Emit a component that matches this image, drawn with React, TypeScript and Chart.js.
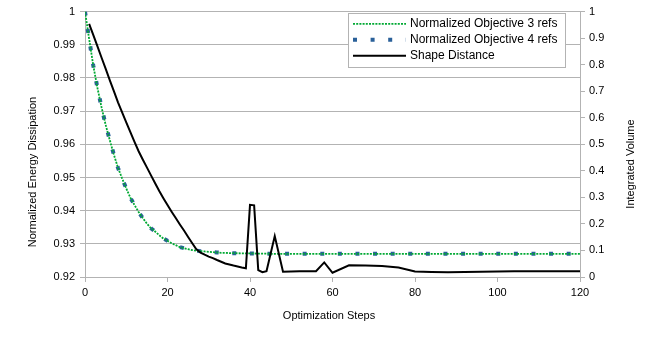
import { useEffect, useRef } from "react";
import { Chart, registerables } from "chart.js";

Chart.register(...registerables);

// ---- data ----
const objectiveSteps = [
  0, 1, 2, 3, 4, 5, 6, 7, 8, 9, 10, 11, 12, 13, 14, 15, 16, 17, 18, 19, 20,
  21, 22, 23, 24, 25, 26, 27, 28, 29, 30, 31, 32, 33, 34, 35, 40, 45, 50, 55,
  60, 65, 70, 75, 80, 85, 90, 95, 100, 105, 110, 115, 120,
];
const objective3Refs = [
  1.0, 0.9918, 0.9838, 0.9771, 0.9712, 0.9659, 0.9613, 0.9569, 0.9529, 0.9497,
  0.9467, 0.9439, 0.9417, 0.9396, 0.9378, 0.9361, 0.9347, 0.9337, 0.9326,
  0.9316, 0.9309, 0.9302, 0.9296, 0.929, 0.9287, 0.9284, 0.9281, 0.9279,
  0.9278, 0.9277, 0.9276, 0.9275, 0.9274, 0.9273, 0.9273, 0.9272, 0.9271,
  0.927, 0.927, 0.927, 0.927, 0.927, 0.927, 0.927, 0.927, 0.927, 0.927, 0.927,
  0.927, 0.927, 0.927, 0.927, 0.927,
];
const objective4Refs = [
  1.0, 0.9918, 0.9838, 0.9771, 0.9712, 0.9659, 0.9613, 0.9569, 0.9529, 0.9497,
  0.9467, 0.9439, 0.9417, 0.9396, 0.9378, 0.9361, 0.9347, 0.9337, 0.9326,
  0.9316, 0.9309, 0.9302, 0.9296, 0.929, 0.9287, 0.9284, 0.9281, 0.9279,
  0.9278, 0.9277, 0.9276, 0.9275, 0.9274, 0.9273, 0.9273, 0.9272, 0.9271,
  0.927, 0.927, 0.927, 0.927, 0.927, 0.927, 0.927, 0.927, 0.927, 0.927, 0.927,
  0.927, 0.927, 0.927, 0.927, 0.927,
];
const shapeSteps = [
  1, 2, 3, 4, 5, 6, 7, 8, 9, 10, 11, 12, 13, 14, 15, 16, 17, 18, 19, 20, 21,
  22, 23, 24, 25, 26, 27, 28, 29, 30, 31, 32, 34, 36, 38, 39, 40, 41, 42, 43,
  44, 46, 48, 52, 56, 58, 60, 64, 68, 72, 76, 80, 84, 88, 92, 96, 100, 104,
  108, 112, 116, 120,
];
const shapeDistance = [
  0.954, 0.912, 0.87, 0.827, 0.785, 0.742, 0.7, 0.658, 0.62, 0.583, 0.546,
  0.509, 0.474, 0.443, 0.413, 0.383, 0.353, 0.324, 0.297, 0.271, 0.246, 0.222,
  0.198, 0.175, 0.151, 0.127, 0.104, 0.092, 0.084, 0.077, 0.071, 0.064, 0.051,
  0.043, 0.036, 0.033, 0.272, 0.27, 0.026, 0.018, 0.022, 0.154, 0.02, 0.022,
  0.022, 0.055, 0.016, 0.044, 0.043, 0.041, 0.036, 0.021, 0.019, 0.018, 0.019,
  0.02, 0.021, 0.022, 0.022, 0.022, 0.022, 0.022,
];
const xTicks = [0, 20, 40, 60, 80, 100, 120];
const leftTicks = [0.92, 0.93, 0.94, 0.95, 0.96, 0.97, 0.98, 0.99, 1];
const rightTicks = [0, 0.1, 0.2, 0.3, 0.4, 0.5, 0.6, 0.7, 0.8, 0.9, 1];
const seriesNames = [
  "Normalized Objective 3 refs",
  "Normalized Objective 4 refs",
  "Shape Distance",
];
const xTitle = "Optimization Steps";
const leftTitle = "Normalized Energy Dissipation";
const rightTitle = "Integrated Volume";

// ---- styles ----
const FONT = "'Liberation Sans', Arial, sans-serif";
const GREEN = "#00a933";
const BLUE = "#2a6099";
const BLACK = "#000000";
const GRID = "#b3b3b3";
const styles = [
  { color: GREEN, width: 1.8, dash: [2, 1.2] },
  { color: BLUE, width: 4, dash: [4, 13.6] },
  { color: BLACK, width: 2, dash: [] as number[] },
];

const overlayPlugin = {
  id: "overlay",
  afterDraw(chart: any) {
    const ctx = chart.ctx as CanvasRenderingContext2D;
    ctx.save();
    // axis titles
    ctx.fillStyle = "#000";
    ctx.font = `11px ${FONT}`;
    ctx.textAlign = "center";
    ctx.textBaseline = "middle";
    ctx.fillText(xTitle, 329, 316);
    ctx.save();
    ctx.translate(33, 172);
    ctx.rotate(-Math.PI / 2);
    ctx.fillText(leftTitle, 0, 0);
    ctx.restore();
    ctx.save();
    ctx.translate(631, 164);
    ctx.rotate(-Math.PI / 2);
    ctx.fillText(rightTitle, 0, 0);
    ctx.restore();

    // legend
    const bx = 348.5, by = 13.5, bw = 217, bh = 54;
    ctx.fillStyle = "#ffffff";
    ctx.fillRect(bx, by, bw, bh);
    ctx.strokeStyle = GRID;
    ctx.lineWidth = 1;
    ctx.setLineDash([]);
    ctx.strokeRect(bx, by, bw, bh);
    const rows = [23.8, 39.8, 55.8];
    ctx.font = `12px ${FONT}`;
    ctx.textAlign = "left";
    ctx.textBaseline = "middle";
    seriesNames.forEach((name, i) => {
      const st = styles[i];
      ctx.save();
      ctx.strokeStyle = st.color;
      ctx.lineWidth = st.width;
      ctx.lineCap = "butt";
      ctx.setLineDash(st.dash);
      ctx.beginPath();
      ctx.moveTo(353, rows[i]);
      ctx.lineTo(406, rows[i]);
      ctx.stroke();
      ctx.restore();
      ctx.fillStyle = "#000";
      ctx.fillText(name, 410, rows[i]);
    });
    ctx.restore();
  },
};

export default function App() {
  const ref = useRef<HTMLCanvasElement | null>(null);
  useEffect(() => {
    document.body.style.margin = "0";
    const canvas = ref.current;
    if (!canvas) return;
    Chart.defaults.font.family = FONT;
    const chart = new Chart(canvas, {
      type: "line",
      data: {
        datasets: [
          {
            label: seriesNames[0],
            data: objectiveSteps.map((s, i) => ({ x: s, y: objective3Refs[i] })),
            yAxisID: "y",
            borderColor: styles[0].color,
            borderWidth: styles[0].width,
            borderDash: styles[0].dash,
            borderCapStyle: "butt",
            pointRadius: 0,
            fill: false,
            tension: 0,
            order: 1,
          },
          {
            label: seriesNames[1],
            data: objectiveSteps.map((s, i) => ({ x: s, y: objective4Refs[i] })),
            yAxisID: "y",
            borderColor: styles[1].color,
            borderWidth: styles[1].width,
            borderDash: styles[1].dash,
            borderCapStyle: "butt",
            pointRadius: 0,
            fill: false,
            tension: 0,
            order: 2,
          },
          {
            label: seriesNames[2],
            data: shapeSteps.map((s, i) => ({ x: s, y: shapeDistance[i] })),
            yAxisID: "y1",
            borderColor: styles[2].color,
            borderWidth: styles[2].width,
            borderJoinStyle: "miter",
            pointRadius: 0,
            fill: false,
            tension: 0,
            order: 0,
          },
        ],
      },
      options: {
        responsive: false,
        animation: false,
        layout: { padding: { top: 10, left: 0, right: 0, bottom: 0 } },
        plugins: { legend: { display: false }, tooltip: { enabled: false } },
        scales: {
          x: {
            type: "linear",
            min: 0,
            max: 120,
            afterBuildTicks: (s: any) => {
              s.ticks = xTicks.map((v) => ({ value: v }));
            },
            afterFit: (s: any) => {
              s.height = 69;
            },
            ticks: {
              color: "#000",
              font: { size: 11, family: FONT },
              padding: 4,
              maxRotation: 0,
              callback: (v: any) => String(v),
            },
            grid: {
              drawOnChartArea: false,
              drawTicks: true,
              tickLength: 5,
              color: GRID,
            },
            border: { color: GRID },
          },
          y: {
            type: "linear",
            position: "left",
            min: 0.92,
            max: 1,
            afterBuildTicks: (s: any) => {
              s.ticks = leftTicks.map((v) => ({ value: v }));
            },
            afterFit: (s: any) => {
              s.width = 85;
            },
            ticks: {
              color: "#000",
              font: { size: 11, family: FONT },
              padding: 5,
              callback: (v: any) => (Math.abs(v - 1) < 1e-9 ? "1" : Number(v).toFixed(2)),
            },
            grid: { color: GRID, tickLength: 5, drawTicks: true },
            border: { color: GRID },
          },
          y1: {
            type: "linear",
            position: "right",
            min: 0,
            max: 1,
            afterBuildTicks: (s: any) => {
              s.ticks = rightTicks.map((v) => ({ value: v }));
            },
            afterFit: (s: any) => {
              s.width = 85;
            },
            ticks: {
              color: "#000",
              font: { size: 11, family: FONT },
              padding: 4,
              callback: (v: any) =>
                Math.abs(v) < 1e-9 ? "0" : Math.abs(v - 1) < 1e-9 ? "1" : Number(v).toFixed(1),
            },
            grid: { drawOnChartArea: false, tickLength: 5, drawTicks: true, color: GRID },
            border: { color: GRID },
          },
        },
      },
      plugins: [overlayPlugin],
    } as any);
    return () => chart.destroy();
  }, []);
  return (
    <div style={{ position: "absolute", left: 0, top: 0, width: 665, height: 346, background: "#fff" }}>
      <canvas ref={ref} width={665} height={346} style={{ display: "block" }} />
    </div>
  );
}
